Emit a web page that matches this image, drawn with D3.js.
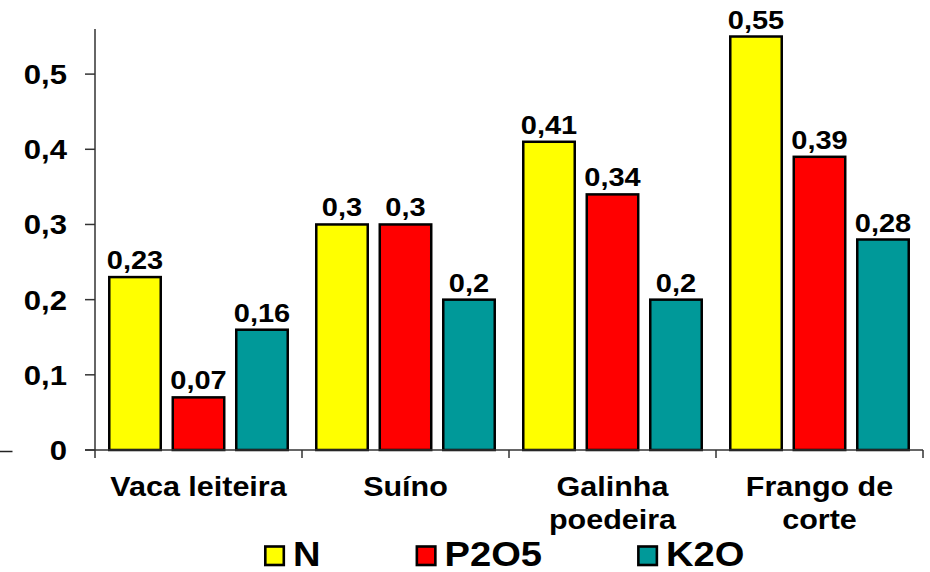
<!DOCTYPE html>
<html>
<head>
<meta charset="utf-8">
<script src="https://cdn.jsdelivr.net/npm/d3@7"></script>
<style>
  html, body { margin: 0; padding: 0; background: #fff; }
  svg { display: block; }
  text { font-family: "Liberation Sans", Arial, sans-serif; font-weight: bold; fill: #000; }
</style>
</head>
<body>
<script>
// ---- data ----
const categories = [["Vaca leiteira"], ["Suíno"], ["Galinha", "poedeira"], ["Frango de", "corte"]];
const categoryKeys = ["Vaca leiteira", "Suíno", "Galinha poedeira", "Frango de corte"];
const seriesNames = ["N", "P2O5", "K2O"];
const seriesColors = ["#FFFF00", "#FF0000", "#009999"];
const valuesN = [0.23, 0.30, 0.41, 0.55];
const valuesP2O5 = [0.07, 0.30, 0.34, 0.39];
const valuesK2O = [0.16, 0.20, 0.20, 0.28];
const yTicks = [0, 0.1, 0.2, 0.3, 0.4, 0.5];
const yTickLabels = ["0", "0,1", "0,2", "0,3", "0,4", "0,5"];

const seriesValues = [valuesN, valuesP2O5, valuesK2O];
const fmt = v => String(v).replace(".", ",");

const W = 930, H = 572;
const svg = d3.select("body").append("svg").attr("width", W).attr("height", H);

const x0 = d3.scaleBand().domain(categoryKeys).range([95, 923]).paddingInner(0).paddingOuter(0);
const x1 = d3.scaleBand().domain(seriesNames).range([0, x0.bandwidth()]).paddingInner(0.15).paddingOuter(0.205);
const y = d3.scaleLinear().domain([0, 0.56]).range([450, 29]);

function stext(g, x, yy, str, size, sx, anchor, ls) {
  return g.append("text")
    .attr("transform", `translate(${x},${yy}) scale(${sx},1)`)
    .attr("text-anchor", anchor)
    .style("font-size", size + "px")
    .style("letter-spacing", (ls || 0) + "px")
    .text(str);
}

// stray short line at far left
svg.append("line").attr("x1", 0).attr("x2", 12.5).attr("y1", 451.5).attr("y2", 451.5)
  .attr("stroke", "#222").attr("stroke-width", 1.5);

// bars
const g = svg.append("g");
categoryKeys.forEach((c, i) => {
  seriesNames.forEach((s, j) => {
    const v = seriesValues[j][i];
    const bx = x0(c) + x1(s);
    g.append("rect")
      .attr("x", bx + 1.25).attr("y", y(v))
      .attr("width", x1.bandwidth() - 2.5).attr("height", y(0) - y(v))
      .attr("fill", seriesColors[j]).attr("stroke", "#000").attr("stroke-width", 2.5);
    stext(g, bx + x1.bandwidth() / 2, y(v) - 8, fmt(v), 25, 1.16, "middle", 0);
  });
});

// y axis
const axisColor = "#333";
svg.append("line").attr("x1", 95).attr("x2", 95).attr("y1", 29).attr("y2", 450)
  .attr("stroke", axisColor).attr("stroke-width", 1.5);
yTicks.forEach((t, i) => {
  svg.append("line").attr("x1", 85).attr("x2", 95).attr("y1", y(t)).attr("y2", y(t))
    .attr("stroke", axisColor).attr("stroke-width", 1.5);
  stext(svg, 67, y(t) + 10, yTickLabels[i], 28, 1.11, "end", 0);
});

// x axis
svg.append("line").attr("x1", 85).attr("x2", 923).attr("y1", 450).attr("y2", 450)
  .attr("stroke", axisColor).attr("stroke-width", 1.5);
const bounds = categoryKeys.map(c => x0(c)).concat([x0.range()[1]]);
bounds.forEach(b => {
  svg.append("line").attr("x1", b).attr("x2", b).attr("y1", 450).attr("y2", 458)
    .attr("stroke", axisColor).attr("stroke-width", 1.5);
});
categoryKeys.forEach((c, i) => {
  const cx = x0(c) + x0.bandwidth() / 2;
  categories[i].forEach((line, k) => {
    stext(svg, cx, 496 + k * 33, line, 27, 1.13, "middle", 0);
  });
});

// legend
const lg = svg.append("g");
let lx = 264;
seriesNames.forEach((s, j) => {
  lg.append("rect").attr("x", lx + 1.3).attr("y", 546.5).attr("width", 18.5).attr("height", 18.5)
    .attr("fill", seriesColors[j]).attr("stroke", "#000").attr("stroke-width", 2.6);
  const t = stext(lg, lx + 29, 565.5, s, 35, 1.09, "start", 0);
  const w = t.node().getBBox().width * 1.09;
  lx = lx + 29 + w + 95;
});
</script>
</body>
</html>
